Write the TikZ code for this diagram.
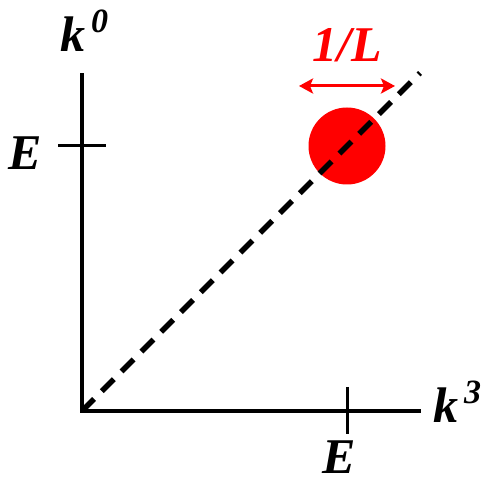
\documentclass[tikz,border=0pt]{standalone}
\usepackage{fontspec}
\newfontfamily\tbi{LiberationSerif-BoldItalic.ttf}
\usepackage{xcolor}
\usetikzlibrary{positioning,arrows.meta}
\definecolor{cMark}{HTML}{FF0000}
\newcommand{\bigbi}{\fontsize{50}{54}\selectfont\tbi}
\newcommand{\supbi}[1]{\hspace{6pt}\raisebox{19pt}{\fontsize{34}{36}\selectfont\tbi #1}}
\tikzset{
  axis/.style={line width=3.5pt,line cap=rect},
  tick/.style={line width=3pt},
  diag/.style={line width=5.5pt,dash pattern=on 17pt off 11pt},
  lab/.style={inner sep=0pt,anchor=base west,font=\bigbi},
  blob/.style={circle,fill=cMark,draw=none,minimum size=77pt,inner sep=0pt},
  width/.style={{Stealth[length=14pt,width=15pt,inset=3pt]}-{Stealth[length=14pt,width=15pt,inset=3pt]},line width=3pt,draw=cMark}}
\begin{document}
\begin{tikzpicture}[x=1pt,y=1pt]
\useasboundingbox (0,0) rectangle (483,485);
% axes
\coordinate (O) at (82,74);
\coordinate (top) at (82,410);
\coordinate (right) at (419,74);
\draw[axis] (top) -- (O) -- (right);
% ticks at E
\coordinate (tv1) at (58,339);
\coordinate (tv2) at (106,339);
\coordinate (th1) at (347,98);
\coordinate (th2) at (347,51);
\draw[tick] (tv1) -- (tv2);
\draw[tick] (th1) -- (th2);
% wave packet
\node[blob] (pk) at (347,339) {};
\coordinate (wl) at (299,399);
\coordinate (wr) at (395,399);
\draw[width] (wl) -- (wr);
% light cone
\coordinate (far) at (420,412);
\draw[diag] (O) -- (far);
% labels
\node[lab,text=cMark] (invL) at (312,423) {1/L};
\node[lab] (k0) at (60,433) {k\supbi{0}};
\node[lab] (k3) at (433,62) {k\supbi{3}};
\node[lab] (Ev) at (8,315) {E};
\node[lab] (Eh) at (322,12) {E};
\end{tikzpicture}
\end{document}
